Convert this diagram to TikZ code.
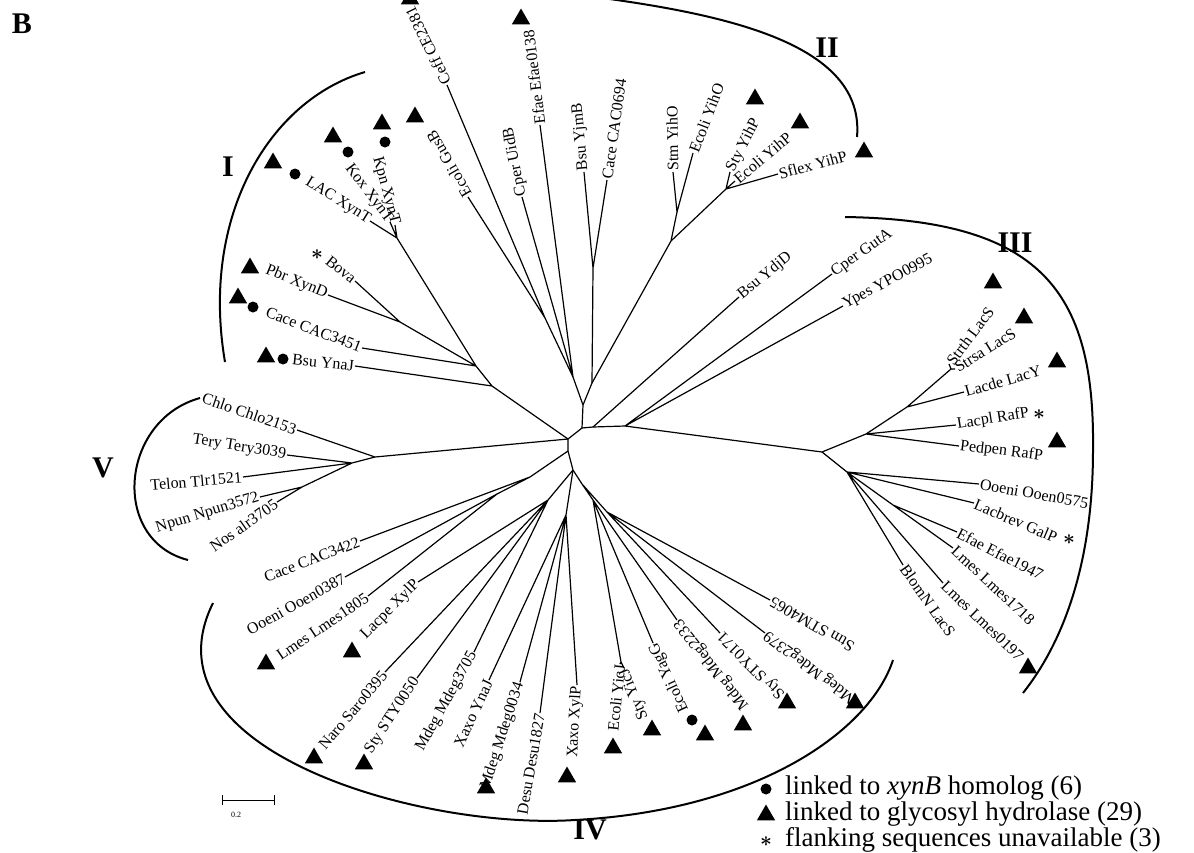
\documentclass[tikz,border=0pt]{standalone}
\usepackage{fontspec}
\setmainfont{Liberation Serif}
\usetikzlibrary{shapes.geometric}

\tikzset{
  branch/.style={line width=1.2pt},
  clade/.style={line width=2pt},
  leaf/.style={font=\fontsize{16}{16}\selectfont, inner sep=1pt},
  lin/.style={leaf, anchor=east},
  lout/.style={leaf, anchor=west},
  tri/.style={regular polygon, regular polygon sides=3, fill, inner sep=0pt, minimum size=21pt},
  dot/.style={circle, fill, inner sep=0pt, minimum size=11pt},
  ast/.style={font=\fontsize{22}{22}\selectfont\boldmath, inner sep=0pt},
  cladename/.style={font=\fontsize{30}{30}\selectfont\bfseries},
  legend/.style={font=\fontsize{27}{27}\selectfont, anchor=west, inner sep=0pt}
}

\begin{document}
\begin{tikzpicture}[x=1pt, y=-1pt]
\useasboundingbox (0,0) rectangle (1194,852);

\node[cladename] (panel) at (22,24) {B};

% inner ring of the tree
\coordinate (c0) at (568,439);
\coordinate (c1) at (582,428);
\coordinate (c2) at (593,427);
\coordinate (c3) at (625,426);
\coordinate (c4) at (568,451);
\coordinate (c5) at (573,470);
\coordinate (c6) at (582,484);
\draw[branch] (c3) -- (c2) -- (c1) -- (c0) -- (c4) -- (c5) -- (c6);

% upper part
\coordinate (t0) at (583,405);
\coordinate (t1) at (573,377);
\coordinate (t2) at (592,383);
\coordinate (g1) at (545,318);
\coordinate (j1) at (593,268);
\coordinate (h0) at (671,241);
\coordinate (h1) at (677,212);
\coordinate (h2) at (726,189);

\node[lout, rotate=116] (ceff) at (447,85) {Ceff CE2381};
\node[lout, rotate=120] (gusb) at (468,197) {Ecoli GusB};
\node[lout, rotate=101] (uidb) at (522,197) {Cper UidB};
\node[lout, rotate=97] (efae0138) at (540,125) {Efae Efae0138};
\node[lout, rotate=95] (yjmb) at (584,172) {Bsu YjmB};
\node[lout, rotate=82] (cac0694) at (607,180) {Cace CAC0694};
\node[lout, rotate=91] (stmyiho) at (673,172) {Stm YihO};
\node[lout, rotate=69] (ecoyiho) at (693,153) {Ecoli YihO};
\node[lout, rotate=63] (styyihp) at (730,172) {Sty YihP};
\node[lout, rotate=40] (ecoyihp) at (735,181) {Ecoli YihP};
\node[lout, rotate=15] (sflex) at (778,174) {Sflex YihP};

\draw[branch] (c1) -- (t0) (t0) -- (t1) (t0) -- (t2);
\draw[branch] (t1) -- (g1) (g1) -- (ceff.west) (g1) -- (gusb.west)
  (t1) -- (uidb.west) (t1) -- (efae0138.west);
\draw[branch] (t2) -- (j1) (j1) -- (yjmb.west) (j1) -- (cac0694.west);
\draw[branch] (t2) -- (h0) (h0) -- (h1) (h0) -- (h2)
  (h1) -- (stmyiho.west) (h1) -- (ecoyiho.west)
  (h2) -- (styyihp.west) (h2) -- (ecoyihp.west) (h2) -- (sflex.west);

% group I
\coordinate (ic) at (492,386);
\coordinate (ib) at (476,366);
\coordinate (ia) at (400,322);
\coordinate (i1) at (397,238);

\node[lin, rotate=-32] (lacxynt) at (370,221) {LAC XynT};
\node[lin, rotate=-53] (koxxynt) at (390,222) {Kox XynT};
\node[lin, rotate=-75] (kpnxynt) at (395,225) {Kpn XynT};
\node[lin, rotate=-39] (bova) at (355,281) {Bova};
\node[lin, rotate=-22] (pbrxynd) at (328,295) {Pbr XynD};
\node[lin, rotate=-21] (cac3451) at (362,348) {Cace CAC3451};
\node[lin, rotate=-6] (bsuynaj) at (355,366) {Bsu YnaJ};

\draw[branch] (c0) -- (ic) (ic) -- (ib) (ic) -- (bsuynaj.east)
  (ib) -- (i1) (ib) -- (ia) (ib) -- (cac3451.east)
  (i1) -- (lacxynt.east) (i1) -- (koxxynt.east) (i1) -- (kpnxynt.east)
  (ia) -- (bova.east) (ia) -- (pbrxynd.east);

% group V
\coordinate (v1) at (375,457);
\coordinate (v2) at (352,463);
\coordinate (v4) at (302,487);

\node[lin, rotate=-19] (chlo) at (297,430) {Chlo Chlo2153};
\node[lin, rotate=-9] (tery) at (287,455) {Tery Tery3039};
\node[lin, rotate=5] (telon) at (243,477) {Telon Tlr1521};
\node[lin, rotate=17] (npun) at (260,497) {Npun Npun3572};
\node[lin, rotate=35] (nos) at (277,502) {Nos alr3705};

\draw[branch] (c0) -- (v1) (v1) -- (chlo.east) (v1) -- (v2)
  (v2) -- (tery.east) (v2) -- (telon.east) (v2) -- (v4)
  (v4) -- (npun.east) (v4) -- (nos.east);

% group III
\coordinate (g3) at (822,452);
\coordinate (g4) at (866,434);
\coordinate (g5) at (907,407);
\coordinate (g6) at (951,369);
\coordinate (g7) at (847,472);
\coordinate (g8) at (893,505);

\node[lout, rotate=39] (ydjd) at (739,297) {Bsu YdjD};
\node[lout, rotate=35] (guta) at (832,274) {Cper GutA};
\node[lout, rotate=28] (ypes) at (843,306) {Ypes YPO0995};
\node[lout, rotate=53] (strth) at (949,364) {Strth LacS};
\node[lout, rotate=32] (strsa) at (955,369) {Strsa LacS};
\node[lout, rotate=16] (lacde) at (964,392) {Lacde LacY};
\node[lout, rotate=9] (lacpl) at (956,425) {Lacpl RafP};
\node[lout, rotate=-7] (pedpen) at (959,446) {Pedpen RafP};
\node[lout, rotate=-10] (ooen0575) at (979,484) {Ooeni Ooen0575};
\node[lout, rotate=-23] (galp) at (974,503) {Lacbrev GalP};
\node[lout, rotate=-27] (efae1947) at (957,532) {Efae Efae1947};
\node[lout, rotate=-43] (lmes1718) at (953,548) {Lmes Lmes1718};
\node[lout, rotate=-44] (lmes0197) at (943,583) {Lmes Lmes0197};
\node[lout, rotate=-55] (blomn) at (903,565) {BlomN LacS};

\draw[branch] (c2) -- (ydjd.west) (c3) -- (guta.west) (c3) -- (ypes.west) (c3) -- (g3);
\draw[branch] (g3) -- (g4) (g4) -- (lacpl.west) (g4) -- (pedpen.west) (g4) -- (g5)
  (g5) -- (lacde.west) (g5) -- (g6) (g6) -- (strth.west) (g6) -- (strsa.west);
\draw[branch] (g3) -- (g7) (g7) -- (ooen0575.west) (g7) -- (galp.west) (g7) -- (g8)
  (g8) -- (efae1947.west) (g8) -- (lmes1718.west)
  (g7) -- (lmes0197.west) (g7) -- (blomn.west);

% group IV
\coordinate (n1) at (530,477);
\coordinate (n2) at (497,494);
\coordinate (n3) at (548,500);
\coordinate (n4) at (566,515);
\coordinate (n5) at (593,500);
\coordinate (n6) at (621,662);
\coordinate (n7) at (607,512);

\node[lin, rotate=21] (cac3422) at (360,541) {Cace CAC3422};
\node[lin, rotate=29] (ooen0387) at (345,577) {Ooeni Ooen0387};
\node[lin, rotate=34] (lmes1805) at (368,596) {Lmes Lmes1805};
\node[lin, rotate=45] (lacpe) at (418,582) {Lacpe XylP};
\node[lin, rotate=50] (naro) at (385,672) {Naro Saro0395};
\node[lin, rotate=57] (sty0050) at (417,678) {Sty STY0050};
\node[lin, rotate=61] (mdeg3705) at (474,652) {Mdeg Mdeg3705};
\node[lin, rotate=65] (xaxoynaj) at (489,680) {Xaxo YnaJ};
\node[lin, rotate=72] (mdeg0034) at (520,682) {Mdeg Mdeg0034};
\node[lin, rotate=80] (desu) at (540,713) {Desu Desu1827};
\node[lin, rotate=87] (xaxoxylp) at (577,685) {Xaxo XylP};
\node[lin, rotate=84] (ecoyicj) at (620,664) {Ecoli YicJ};
\node[lin, rotate=112] (styyicj) at (624,668) {Sty YicJ};
\node[lin, rotate=115] (yagg) at (653,643) {Ecoli YagG};
\node[lin, rotate=128] (mdeg2233) at (677,620) {Mdeg Mdeg2233};
\node[lin, rotate=135] (sty0171) at (720,633) {Sty STY0171};
\node[lin, rotate=143] (mdeg2379) at (765,633) {Mdeg Mdeg2379};
\node[lin, rotate=150] (stm4065) at (770,600) {Stm STM4065};

\draw[branch] (c4) -- (n1) (n1) -- (cac3422.east) (n1) -- (n2)
  (n2) -- (ooen0387.east) (n2) -- (lmes1805.east);
\draw[branch] (c5) -- (n3) (n3) -- (lacpe.east) (n3) -- (naro.east)
  (n3) -- (sty0050.east) (n3) -- (mdeg3705.east);
\draw[branch] (c5) -- (n4) (n4) -- (xaxoynaj.east) (n4) -- (mdeg0034.east)
  (n4) -- (desu.east) (n4) -- (xaxoxylp.east);
\draw[branch] (c6) -- (n5) (n5) -- (n6) (n6) -- (ecoyicj.east) (n6) -- (styyicj.east)
  (n5) -- (yagg.east) (n5) -- (mdeg2233.east)
  (c6) -- (n7) (n7) -- (sty0171.east) (n7) -- (mdeg2379.east) (n7) -- (stm4065.east);

% clade arcs
\draw[clade] (365,72) .. controls (270,100) and (200,215) .. (225,362);
\draw[clade] (595,-3) .. controls (730,15) and (865,45) .. (857,137);
\draw[clade] (845,217) .. controls (1040,220) and (1095,290) .. (1093,450)
  .. controls (1093,560) and (1065,640) .. (1023,693);
\draw[clade] (213,603) .. controls (140,750) and (420,830) .. (575,820)
  .. controls (760,810) and (870,730) .. (893,660);
\draw[clade] (200,398) .. controls (120,420) and (110,540) .. (188,560);

\node[cladename] (cI) at (228,167) {I};
\node[cladename] (cII) at (827,48) {II};
\node[cladename] (cIII) at (1015,243) {III};
\node[cladename] (cIV) at (590,830) {IV};
\node[cladename] (cV) at (103,468) {V};

% markers
\node[tri] (m1) at (273,163) {}; \node[dot] (m2) at (295,174) {};
\node[tri] (m3) at (333,137) {}; \node[dot] (m4) at (348,152) {};
\node[tri] (m5) at (382,124) {}; \node[dot] (m6) at (385,142) {};
\node[tri] (m7) at (415,117) {};
\node[tri] (m8) at (410,-1) {};
\node[tri] (m9) at (521,19) {};
\node[ast] (m10) at (317,255) {$\ast$};
\node[tri] (m11) at (250,268) {};
\node[tri] (m12) at (238,298) {}; \node[dot] (m13) at (253,307) {};
\node[tri] (m14) at (266,357) {}; \node[dot] (m15) at (283,359) {};
\node[tri] (m16) at (755,99) {};
\node[tri] (m17) at (800,123) {};
\node[tri] (m18) at (864,152) {};
\node[tri] (m19) at (993,283) {};
\node[tri] (m20) at (1024,318) {};
\node[tri] (m21) at (1057,362) {};
\node[ast] (m22) at (1039,415) {$\ast$};
\node[tri] (m23) at (1057,442) {};
\node[ast] (m24) at (1069,540) {$\ast$};
\node[tri] (m25) at (1028,668) {};
\node[tri] (m26) at (266,664) {};
\node[tri] (m27) at (352,652) {};
\node[tri] (m28) at (314,758) {};
\node[tri] (m29) at (364,764) {};
\node[tri] (m30) at (486,788) {};
\node[tri] (m31) at (567,777) {};
\node[tri] (m32) at (613,748) {};
\node[tri] (m33) at (652,730) {};
\node[dot] (m34) at (692,720) {}; \node[tri] (m35) at (705,735) {};
\node[tri] (m36) at (743,725) {};
\node[tri] (m37) at (787,703) {};
\node[tri] (m38) at (855,703) {};

% scale bar
\coordinate (sb1) at (222,800);
\coordinate (sb2) at (274,800);
\draw[line width=0.8pt] (sb1) -- (sb2) ([yshift=-5pt]sb1) -- ([yshift=5pt]sb1) ([yshift=-5pt]sb2) -- ([yshift=5pt]sb2);
\node[font=\fontsize{8}{8}\selectfont] (sblabel) at (236,815) {0.2};

% legend
\node[dot] (k1) at (766,789) {};
\node[tri] (k2) at (766,815) {};
\node[ast] (k3) at (766,842) {$\ast$};
\node[legend] (k1t) at (785,788) {linked to \textit{xynB} homolog (6)};
\node[legend] (k2t) at (785,814) {linked to glycosyl hydrolase (29)};
\node[legend] (k3t) at (785,840) {flanking sequences unavailable (3)};
\end{tikzpicture}
\end{document}
